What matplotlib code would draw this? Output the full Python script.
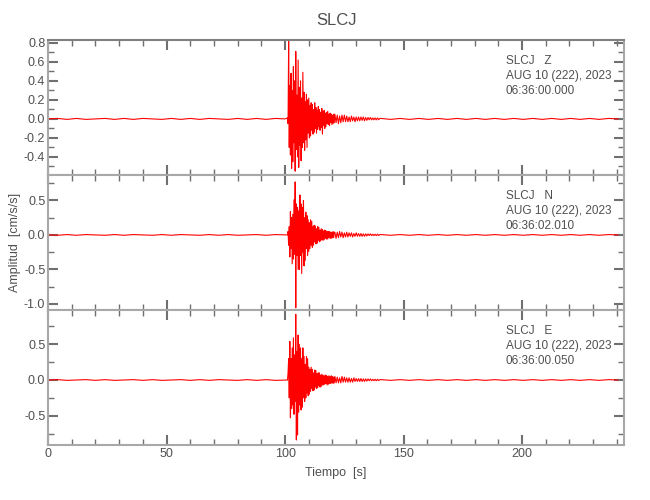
import numpy as np
import matplotlib
matplotlib.use("Agg")
import matplotlib.pyplot as plt
from matplotlib import font_manager
from matplotlib.ticker import MultipleLocator, FixedLocator

# narrow sans if it is installed, else Liberation Sans (narrower than DejaVu)
names = {f.name for f in font_manager.fontManager.ttflist}
FONT = "Liberation Sans Narrow" if "Liberation Sans Narrow" in names else "Liberation Sans"
plt.rcParams["font.family"] = [FONT, "DejaVu Sans"]

TXT = "#505050"
SPINE = "#a8a8a8"

station = "SLCJ"
channels = ["Z", "N", "E"]
date_txt = "AUG 10 (222), 2023"
start_times = ["06:36:00.000", "06:36:02.010", "06:36:00.050"]

# start / spacing (s) of the pieces of each trace
pre_t0, pre_dt = 0.0, 4.0
b1_t0, b1_dt = 101.0, 0.25
b2_t0, b2_dt = 121.0, 0.5
tail_t0, tail_dt = 140.5, 4.0

# pre-event noise, 0 .. 100 s
z_pre = [0.00, 0.005, -0.005, 0.005, -0.005, 0.00, 0.005, -0.005, 0.005, -0.005, 0.005, 0.00, -0.005,
         0.005, -0.005, 0.005, -0.005, 0.005, 0.00, -0.005, 0.005, -0.005, 0.005, -0.005, 0.005, 0.00]
n_pre = [0.00, -0.005, 0.005, -0.005, 0.005, 0.00, -0.005, 0.005, -0.005, 0.005, 0.00, -0.005, 0.005,
         -0.005, 0.005, 0.00, -0.005, 0.005, -0.005, 0.005, -0.005, 0.00, 0.005, -0.005, 0.005, 0.00]
e_pre = [0.00, 0.005, -0.005, 0.00, 0.005, -0.005, 0.005, -0.005, 0.00, 0.005, -0.005, 0.005, -0.005,
         0.00, 0.005, -0.005, 0.005, -0.005, 0.005, 0.00, -0.005, 0.005, -0.005, 0.005, -0.005, 0.00]

# strong motion, 101 .. 120.75 s
z_b1 = [0.01, -0.05, 0.82, -0.30, 0.35, -0.38, 0.48, -0.52, 0.30, -0.45,
        0.55, -0.25, 0.40, -0.55, 0.71, -0.32, 0.25, -0.40, 0.62, -0.51,
        0.33, -0.28, 0.40, -0.44, 0.22, -0.30, 0.49, -0.25, 0.28, -0.33,
        0.18, -0.22, 0.26, -0.30, 0.20, -0.15, 0.22, -0.20, 0.14, -0.18,
        0.17, -0.12, 0.15, -0.16, 0.10, -0.14, 0.17, -0.10, 0.12, -0.15,
        0.09, -0.11, 0.13, -0.08, 0.10, -0.12, 0.07, -0.09, 0.11, -0.16,
        0.08, -0.07, 0.09, -0.10, 0.06, -0.08, 0.07, -0.05, 0.08, -0.06,
        0.05, -0.07, 0.06, -0.04, 0.05, -0.06, 0.04, -0.05, 0.05, -0.04]
n_b1 = [0.00, 0.05, -0.15, 0.12, -0.32, 0.34, -0.20, 0.25, -0.42, 0.30,
        -0.35, 0.51, -0.28, 0.77, -1.06, 0.45, -0.30, 0.40, -0.50, 0.35,
        -0.50, 0.58, -0.30, 0.45, -0.56, 0.40, -0.25, 0.50, -0.45, 0.25,
        -0.37, 0.33, -0.20, 0.28, -0.30, 0.22, -0.24, 0.18, -0.20, 0.22,
        -0.15, 0.20, -0.18, 0.12, -0.15, 0.14, -0.10, 0.13, -0.13, 0.09,
        -0.12, 0.12, -0.08, 0.11, -0.10, 0.07, -0.09, 0.09, -0.07, 0.08,
        -0.08, 0.06, -0.07, 0.07, -0.05, 0.06, -0.06, 0.05, -0.06, 0.05,
        -0.04, 0.05, -0.05, 0.04, -0.05, 0.04, -0.04, 0.05, -0.04, 0.04]
e_b1 = [0.00, 0.10, 0.30, -0.25, 0.54, -0.53, 0.30, -0.40, 0.45, -0.35,
        0.59, -0.48, 0.35, -0.30, 0.92, -0.84, 0.40, -0.77, 0.63, -0.45,
        0.50, -0.35, 0.45, -0.42, 0.30, -0.38, 0.45, -0.25, 0.33, -0.30,
        0.22, -0.25, 0.33, -0.18, 0.30, -0.22, 0.18, -0.20, 0.15, -0.16,
        0.18, -0.12, 0.15, -0.15, 0.10, -0.14, 0.14, -0.10, 0.13, -0.12,
        0.09, -0.11, 0.10, -0.08, 0.10, -0.10, 0.07, -0.09, 0.08, -0.07,
        0.07, -0.07, 0.06, -0.06, 0.07, -0.05, 0.06, -0.07, 0.05, -0.06,
        0.06, -0.05, 0.05, -0.05, 0.06, -0.04, 0.05, -0.05, 0.04, -0.04]

# coda, 121 .. 140 s
z_b2 = [0.05, -0.04, 0.04, -0.05, 0.03, -0.04, 0.04, -0.03, 0.04, -0.03,
        0.03, -0.03, 0.02, -0.03, 0.03, -0.02, 0.02, -0.03, 0.02, -0.02,
        0.02, -0.02, 0.02, -0.015, 0.02, -0.02, 0.015, -0.015, 0.015, -0.01,
        0.015, -0.01, 0.01, -0.01, 0.01, -0.01, 0.01, -0.008, 0.005]
n_b2 = [0.04, -0.05, 0.04, -0.04, 0.05, -0.03, 0.04, -0.04, 0.03, -0.03,
        0.04, -0.03, 0.03, -0.02, 0.03, -0.03, 0.02, -0.02, 0.03, -0.02,
        0.02, -0.02, 0.02, -0.02, 0.015, -0.02, 0.015, -0.015, 0.015, -0.01,
        0.015, -0.01, 0.01, -0.01, 0.01, -0.01, 0.01, -0.008, 0.005]
e_b2 = [0.05, -0.04, 0.04, -0.04, 0.03, -0.04, 0.05, -0.03, 0.04, -0.03,
        0.03, -0.03, 0.03, -0.03, 0.02, -0.03, 0.03, -0.02, 0.02, -0.02,
        0.02, -0.02, 0.02, -0.02, 0.015, -0.02, 0.015, -0.015, 0.015, -0.01,
        0.015, -0.01, 0.01, -0.01, 0.01, -0.01, 0.01, -0.008, 0.005]

# tail, 140.5 .. 240.5 s
z_tail = [0.005, -0.005, 0.005, -0.005, 0.005, -0.005, 0.005, -0.005, 0.005, -0.005, 0.005, -0.005, 0.005,
          -0.005, 0.005, -0.005, 0.005, -0.005, 0.005, -0.005, 0.005, -0.005, 0.005, -0.005, 0.005, 0.00]
n_tail = [0.005, -0.005, 0.005, -0.005, 0.005, -0.005, 0.005, -0.005, 0.005, -0.005, 0.005, -0.005, 0.005,
          -0.005, 0.005, -0.005, 0.005, -0.005, 0.005, -0.005, 0.005, -0.005, 0.005, -0.005, 0.005, 0.00]
e_tail = [0.005, -0.005, 0.005, -0.005, 0.005, -0.005, 0.005, -0.005, 0.005, -0.005, 0.005, -0.005, 0.005,
          -0.005, 0.005, -0.005, 0.005, -0.005, 0.005, -0.005, 0.005, -0.005, 0.005, -0.005, 0.005, 0.00]

pieces = [
    [(pre_t0, pre_dt, z_pre), (b1_t0, b1_dt, z_b1), (b2_t0, b2_dt, z_b2), (tail_t0, tail_dt, z_tail)],
    [(pre_t0, pre_dt, n_pre), (b1_t0, b1_dt, n_b1), (b2_t0, b2_dt, n_b2), (tail_t0, tail_dt, n_tail)],
    [(pre_t0, pre_dt, e_pre), (b1_t0, b1_dt, e_b1), (b2_t0, b2_dt, e_b2), (tail_t0, tail_dt, e_tail)],
]

y_limits = [(-0.59, 0.83), (-1.09, 0.87), (-0.91, 0.98)]
y_major = [[-0.4, -0.2, 0.0, 0.2, 0.4, 0.6, 0.8], [-1.0, -0.5, 0.0, 0.5], [-0.5, 0.0, 0.5]]
y_minor = [0.1, 0.25, 0.25]

fig, axes = plt.subplots(3, 1, figsize=(6.5, 5.0), dpi=100, sharex=True)
fig.subplots_adjust(left=0.074, right=0.96, top=0.92, bottom=0.11, hspace=0)

for k, ax in enumerate(axes):
    t = np.concatenate([t0 + dt * np.arange(len(v)) for t0, dt, v in pieces[k]])
    y = np.concatenate([v for _, _, v in pieces[k]])
    ax.plot(t, y, color="red", lw=0.8, clip_on=False)

    ax.set_xlim(0, 243)
    ax.set_ylim(*y_limits[k])
    ax.yaxis.set_major_locator(FixedLocator(y_major[k]))
    ax.set_yticklabels([f"{v:.1f}" for v in y_major[k]])
    ax.yaxis.set_minor_locator(MultipleLocator(y_minor[k]))
    ax.xaxis.set_major_locator(MultipleLocator(50))
    ax.xaxis.set_minor_locator(MultipleLocator(10))
    ax.tick_params(which="both", direction="in", top=True, right=True, colors="#707070",
                   labelcolor=TXT, labelsize=9, pad=2)
    ax.tick_params(which="major", length=7, width=1.5)
    ax.tick_params(which="minor", length=4, width=1.0)
    for s in ax.spines.values():
        s.set_color(SPINE)
        s.set_linewidth(1.5)

    ax.text(0.795, 0.845, f"{station}   {channels[k]}", transform=ax.transAxes,
            fontsize=8.5, color=TXT, va="center")
    ax.text(0.795, 0.735, date_txt, transform=ax.transAxes, fontsize=8.5, color=TXT, va="center")
    ax.text(0.795, 0.625, start_times[k], transform=ax.transAxes, fontsize=8.5, color=TXT, va="center")

axes[0].spines["top"].set_color("#808080")
axes[0].set_title(station, fontsize=12, color=TXT, pad=11)
axes[1].set_ylabel("Amplitud  [cm/s/s]", fontsize=9, color=TXT, labelpad=2)
axes[2].set_xlabel("Tiempo  [s]", fontsize=9, color=TXT, labelpad=5)

fig.savefig("out.png", dpi=100)
